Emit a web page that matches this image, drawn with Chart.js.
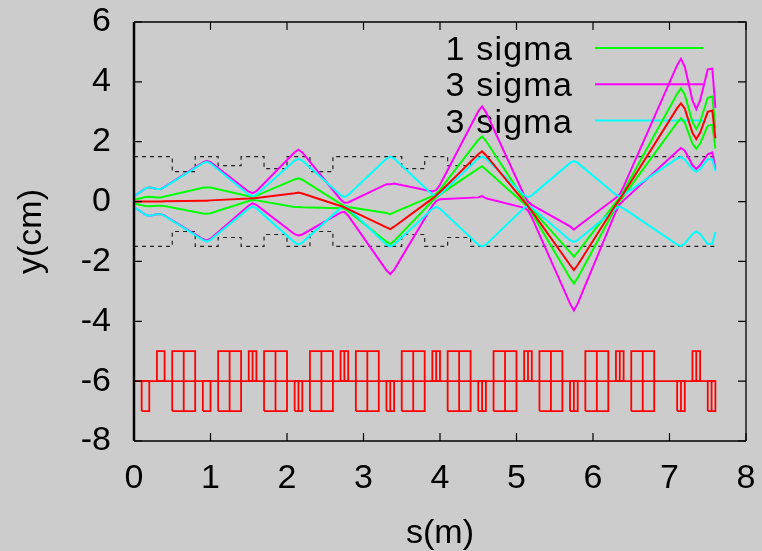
<!DOCTYPE html>
<html>
<head>
<meta charset="utf-8">
<title>beam envelope</title>
<script src="https://cdn.jsdelivr.net/npm/chart.js@4.4.1/dist/chart.umd.min.js"></script>
<style>
  html, body { margin: 0; padding: 0; background: #cccccc; }
  canvas { display: block; }
</style>
</head>
<body>
<canvas id="chart" width="762" height="551"></canvas>
<script>
// position along the line, s (m)
const s = [0, 0.1, 0.15, 0.2, 0.3, 0.35, 0.4, 0.9, 0.95, 1.0, 1.5, 1.55, 1.6, 2.1, 2.15, 2.2,
  2.7, 2.75, 2.8, 3.3, 3.35, 3.4, 3.9, 3.95, 4.0, 4.5, 4.55, 4.6, 5.1, 5.15, 5.2,
  5.7, 5.75, 5.8, 6.3, 6.35, 6.4, 7.1, 7.15, 7.2, 7.3, 7.35, 7.4, 7.5, 7.56, 7.6];

// centre orbit (cm)
const orbit = [0, 0, 0, 0, 0, 0, 0.01, 0.03, 0.03, 0.04, 0.10, 0.11, 0.12, 0.28, 0.30, 0.27,
  -0.15, -0.19, -0.25, -0.86, -0.92, -0.84, 0.10, 0.20, 0.32, 1.58, 1.68, 1.55, 0.00, -0.15, -0.32,
  -2.12, -2.29, -2.12, -0.10, 0.08, 0.27, 3.12, 3.28, 3.10, 2.30, 2.09, 2.30, 3.00, 3.04, 2.11];

// 1 sigma (green)
const oneSigmaUp = [0.06, 0.12, 0.15, 0.16, 0.14, 0.14, 0.17, 0.46, 0.47, 0.47, 0.18, 0.17, 0.20, 0.74, 0.78, 0.73,
  -0.08, -0.14, -0.18, -0.38, -0.42, -0.36, 0.18, 0.26, 0.40, 2.06, 2.18, 2.03, 0.07, -0.10, -0.25,
  -1.69, -1.84, -1.69, -0.02, 0.14, 0.35, 3.60, 3.78, 3.57, 2.66, 2.42, 2.66, 3.47, 3.51, 2.45];
const oneSigmaDown = [-0.06, -0.12, -0.15, -0.16, -0.14, -0.14, -0.15, -0.40, -0.41, -0.39, 0.02, 0.05, 0.04, -0.18, -0.18, -0.19,
  -0.22, -0.24, -0.32, -1.34, -1.42, -1.32, 0.02, 0.14, 0.24, 1.10, 1.18, 1.07, -0.07, -0.20, -0.39,
  -2.55, -2.74, -2.55, -0.18, 0.02, 0.19, 2.64, 2.78, 2.63, 1.94, 1.76, 1.94, 2.53, 2.57, 1.77];

// 3 sigma around the orbit (magenta)
const threeSigmaUp = [0.18, 0.35, 0.44, 0.48, 0.42, 0.42, 0.49, 1.31, 1.36, 1.32, 0.33, 0.28, 0.35, 1.65, 1.73, 1.64,
  0.07, -0.04, -0.03, 0.58, 0.58, 0.60, 0.34, 0.38, 0.56, 3.02, 3.18, 2.99, 0.21, 0.00, -0.11,
  -0.83, -0.94, -0.83, 0.13, 0.25, 0.50, 4.56, 4.77, 4.50, 3.38, 3.09, 3.38, 4.42, 4.44, 3.13];
const threeSigmaDown = [-0.18, -0.35, -0.44, -0.48, -0.42, -0.42, -0.47, -1.25, -1.30, -1.24, -0.13, -0.06, -0.11, -1.09, -1.13, -1.10,
  -0.37, -0.34, -0.47, -2.30, -2.42, -2.28, -0.14, 0.02, 0.08, 0.14, 0.18, 0.11, -0.21, -0.30, -0.53,
  -3.41, -3.64, -3.41, -0.33, -0.09, 0.04, 1.68, 1.79, 1.70, 1.22, 1.09, 1.22, 1.58, 1.64, 1.09];

// 3 sigma beam size around zero (cyan)
const beamUp = [0.18, 0.35, 0.44, 0.48, 0.42, 0.42, 0.48, 1.28, 1.33, 1.28, 0.23, 0.17, 0.23, 1.37, 1.43, 1.37,
  0.22, 0.15, 0.22, 1.44, 1.50, 1.44, 0.24, 0.18, 0.24, 1.44, 1.50, 1.44, 0.21, 0.15, 0.21,
  1.29, 1.35, 1.29, 0.23, 0.17, 0.23, 1.44, 1.49, 1.40, 1.08, 1.00, 1.08, 1.42, 1.40, 1.02];
const beamDown = [-0.18, -0.35, -0.44, -0.48, -0.42, -0.42, -0.48, -1.28, -1.33, -1.28, -0.23, -0.17, -0.23, -1.37, -1.43, -1.37,
  -0.22, -0.15, -0.22, -1.44, -1.50, -1.44, -0.24, -0.18, -0.24, -1.44, -1.50, -1.44, -0.21, -0.15, -0.21,
  -1.29, -1.35, -1.29, -0.23, -0.17, -0.23, -1.44, -1.49, -1.40, -1.08, -1.00, -1.08, -1.42, -1.40, -1.02];

// aperture (half width, cm) between these s edges
const apEdges = [0, 0.5, 0.8, 1.1, 1.4, 1.7, 2.0, 2.3, 2.6, 3.5, 3.8, 4.1, 4.4, 7.6];
const apHalf = [1.5, 1.0, 1.5, 1.2, 1.5, 1.1, 1.5, 1.0, 1.5, 1.1, 1.5, 1.2, 1.5];

// lattice: element start/end (m) and kind (1 up, -1 down, 0 both)
const elemStart = [0.1, 0.3, 0.5, 0.65, 0.9, 1.1, 1.25, 1.5, 1.55, 1.7, 1.85, 2.1, 2.15, 2.3, 2.45,
  2.7, 2.75, 2.9, 3.05, 3.3, 3.35, 3.5, 3.65, 3.9, 3.95, 4.1, 4.25, 4.5, 4.55, 4.7, 4.85,
  5.1, 5.15, 5.3, 5.45, 5.7, 5.75, 5.9, 6.05, 6.3, 6.35, 6.5, 6.65, 7.1, 7.15, 7.3, 7.35, 7.5, 7.55];
const elemEnd = [0.2, 0.4, 0.65, 0.8, 1.0, 1.25, 1.4, 1.55, 1.6, 1.85, 2.0, 2.15, 2.2, 2.45, 2.6,
  2.75, 2.8, 3.05, 3.2, 3.35, 3.4, 3.65, 3.8, 3.95, 4.0, 4.25, 4.4, 4.55, 4.6, 4.85, 5.0,
  5.15, 5.2, 5.45, 5.6, 5.75, 5.8, 6.05, 6.2, 6.35, 6.4, 6.65, 6.8, 7.15, 7.2, 7.35, 7.4, 7.55, 7.6];
const elemKind = [-1, 1, 0, 0, -1, 0, 0, 1, 1, 0, 0, -1, -1, 0, 0,
  1, 1, 0, 0, -1, -1, 0, 0, 1, 1, 0, 0, -1, -1, 0, 0,
  1, 1, 0, 0, -1, -1, 0, 0, 1, 1, 0, 0, -1, -1, 1, 1, -1, -1];
const latticeBase = -6;
const latticeLength = 7.6;

const font = { family: '"Liberation Sans", Arial, sans-serif', size: 34 };

const pts = ys => s.map((x, i) => ({ x: x, y: ys[i] }));

function aperture(sign) {
  const out = [];
  apHalf.forEach((h, i) => {
    out.push({ x: apEdges[i], y: sign * h });
    out.push({ x: apEdges[i + 1], y: sign * h });
  });
  return out;
}

function latticeBoxes() {
  const out = [];
  elemStart.forEach((a, i) => {
    const b = elemEnd[i];
    const k = elemKind[i];
    const lo = k === 1 ? latticeBase : latticeBase - 1;
    const hi = k === -1 ? latticeBase : latticeBase + 1;
    out.push({ x: a, y: lo }, { x: a, y: hi }, { x: b, y: hi }, { x: b, y: lo }, { x: a, y: lo }, { x: b, y: null });
  });
  return out;
}

const line = (data, color, order, extra) => Object.assign({
  data: data, borderColor: color, borderWidth: 2, pointRadius: 0, order: order
}, extra || {});

// key drawn under the curves, like gnuplot
const keyPlugin = {
  id: 'key',
  beforeDatasetsDraw(chart) {
    const { ctx, chartArea } = chart;
    const rows = chart.data.datasets.filter(d => d.keyRank).sort((p, q) => p.keyRank - q.keyRank);
    ctx.save();
    ctx.font = font.size + 'px ' + font.family;
    ctx.letterSpacing = '1.2px';
    ctx.textAlign = 'right';
    ctx.textBaseline = 'alphabetic';
    rows.forEach((d, i) => {
      const y = chartArea.top + 26 + i * 36.3;
      ctx.fillStyle = '#000';
      ctx.fillText(d.label, chartArea.right - 173, y + 12);
      ctx.strokeStyle = d.borderColor;
      ctx.lineWidth = 2;
      ctx.beginPath();
      ctx.moveTo(chartArea.right - 151, y);
      ctx.lineTo(chartArea.right - 43, y);
      ctx.stroke();
    });
    ctx.restore();
  }
};

// border box with inward ticks on all four sides
const framePlugin = {
  id: 'frame',
  afterDraw(chart) {
    const { ctx, chartArea: a, scales } = chart;
    ctx.save();
    ctx.strokeStyle = '#000';
    ctx.lineWidth = 1.2;
    ctx.beginPath();
    scales.x.ticks.forEach(t => {
      const px = scales.x.getPixelForValue(t.value);
      ctx.moveTo(px, a.bottom); ctx.lineTo(px, a.bottom - 8);
      ctx.moveTo(px, a.top); ctx.lineTo(px, a.top + 8);
    });
    scales.y.ticks.forEach(t => {
      const py = scales.y.getPixelForValue(t.value);
      ctx.moveTo(a.left, py); ctx.lineTo(a.left + 8, py);
      ctx.moveTo(a.right, py); ctx.lineTo(a.right - 8, py);
    });
    ctx.stroke();
    ctx.lineWidth = 1.3;
    ctx.beginPath();
    ctx.moveTo(a.left, a.top); ctx.lineTo(a.right, a.top); ctx.lineTo(a.right, a.bottom);
    ctx.stroke();
    ctx.lineWidth = 1.6;
    ctx.beginPath();
    ctx.moveTo(a.left, a.bottom); ctx.lineTo(a.right, a.bottom);
    ctx.stroke();
    ctx.lineWidth = 2.5;
    ctx.beginPath();
    ctx.moveTo(a.left, a.top); ctx.lineTo(a.left, a.bottom);
    ctx.stroke();
    ctx.restore();
  }
};

new Chart(document.getElementById('chart'), {
  type: 'line',
  data: {
    datasets: [
      line(pts(orbit), '#ff0000', 1),
      line(pts(beamUp), '#00ffff', 2, { label: '3 sigma', keyRank: 3 }),
      line(pts(beamDown), '#00ffff', 2),
      line(pts(threeSigmaUp), '#ff00ff', 3, { label: '3 sigma', keyRank: 2 }),
      line(pts(threeSigmaDown), '#ff00ff', 3),
      line(pts(oneSigmaUp), '#00ff00', 4, { label: '1 sigma', keyRank: 1 }),
      line(pts(oneSigmaDown), '#00ff00', 4),
      line(aperture(1), '#222222', 5, { borderWidth: 1.2, borderDash: [4, 4] }),
      line(aperture(-1), '#222222', 5, { borderWidth: 1.2, borderDash: [4, 4] }),
      line([{ x: 0, y: latticeBase }, { x: latticeLength, y: latticeBase }], '#ff0000', 6, { borderWidth: 1.8 }),
      line(latticeBoxes(), '#ff0000', 6, { borderWidth: 1.8 })
    ]
  },
  options: {
    responsive: false,
    animation: false,
    devicePixelRatio: 1,
    layout: { padding: { top: 22, right: 16, left: 0, bottom: 0 } },
    plugins: { legend: { display: false }, tooltip: { enabled: false } },
    elements: { point: { radius: 0 }, line: { tension: 0 } },
    scales: {
      x: {
        type: 'linear', min: 0, max: 8,
        ticks: { stepSize: 1, padding: 17, color: '#000', font: font },
        grid: { display: false, drawTicks: false }, border: { display: false },
        title: { display: true, text: 's(m)', color: '#000', font: Object.assign({ lineHeight: 1.05 }, font), padding: 0 },
        afterFit(scale) {
          scale.height = 110;
          scale.paddingLeft = 0; scale.paddingRight = 0;
        }
      },
      y: {
        type: 'linear', min: -8, max: 6,
        ticks: { stepSize: 2, padding: 23, color: '#000', font: font },
        grid: { display: false, drawTicks: false }, border: { display: false },
        title: { display: true, text: 'y(cm)', color: '#000', font: font, padding: { top: 11, bottom: 0 } },
        afterFit(scale) {
          scale.width = 134;
          scale.paddingTop = 0; scale.paddingBottom = 0;
        }
      }
    }
  },
  plugins: [keyPlugin, framePlugin]
});
</script>
</body>
</html>
